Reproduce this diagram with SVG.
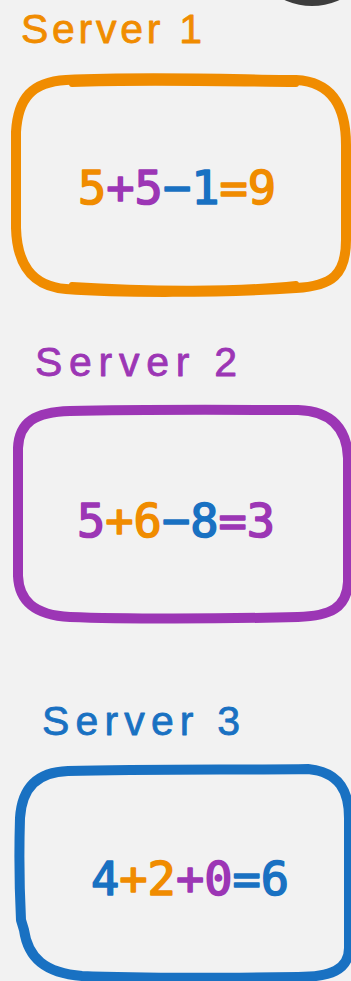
<svg xmlns="http://www.w3.org/2000/svg" width="351" height="981" viewBox="0 0 351 981">
  <style>
    .frame { fill: none; stroke-width: 10; stroke-linecap: round; stroke-linejoin: round; }
    .label { font-family: "Liberation Sans", Arial, sans-serif; font-size: 41px; stroke-width: 0.8; stroke-linejoin: round; }
    .sum { font-family: "DejaVu Sans Mono", "Liberation Mono", monospace; font-size: 47px; stroke-width: 1.6; stroke-linejoin: round; }
    .o { fill: #f08c00; stroke: #f08c00; }
    .p { fill: #9c36b5; stroke: #9c36b5; }
    .b { fill: #1971c2; stroke: #1971c2; }
  </style>
  <rect width="351" height="981" fill="#f2f2f2"/>

  <!-- partial dark disc at the top edge -->
  <circle cx="312" cy="-60" r="66" fill="#3d3d3d"/>

  <g id="server1">
    <text class="label o" x="21" y="43" textLength="181" lengthAdjust="spacing">Server 1</text>
    <path class="frame" stroke="#f08c00" d="M 66 80 C 150 76, 250 80, 296 80 C 333 82, 346 108, 346 145 L 346 240 C 346 275, 332 286, 296 288 C 220 293, 120 293, 66 289 C 30 286, 17 262, 16 228 L 16 132 C 18 98, 32 82, 66 80 Z"/>
    <path fill="none" stroke="#f08c00" stroke-width="6" stroke-linecap="round" d="M 72 84 C 150 81, 250 84, 296 84 M 72 285 C 150 290, 240 290, 296 284"/>
    <text class="sum" x="78" y="204"><tspan class="o">5</tspan><tspan class="p">+5</tspan><tspan class="b">−1</tspan><tspan class="o">=9</tspan></text>
  </g>

  <g id="server2">
    <text class="label p" x="35" y="376" textLength="202" lengthAdjust="spacing">Server 2</text>
    <path class="frame" stroke="#9c36b5" d="M 70 411 C 150 409, 250 410, 298 410 C 333 411, 347 430, 348 458 L 348 582 C 347 608, 330 616, 298 617 C 220 619, 120 619, 70 617 C 33 615, 19 600, 18 576 L 18 448 C 19 422, 35 412, 70 411 Z"/>
    <text class="sum" x="77" y="537"><tspan class="p">5</tspan><tspan class="o">+6</tspan><tspan class="b">−8</tspan><tspan class="p">=3</tspan></text>
  </g>

  <g id="server3">
    <text class="label b" x="42" y="735" textLength="198" lengthAdjust="spacing">Server 3</text>
    <path class="frame" stroke="#1971c2" d="M 68 771 C 150 769, 250 770, 308 769 C 340 772, 349 792, 349 818 L 349 948 C 349 970, 330 977, 298 977 C 220 978, 130 978, 82 976 C 45 973, 28 958, 24 930 L 21 920 C 19 880, 19 850, 20 818 C 22 787, 38 772, 68 771 Z"/>
    <text class="sum" x="91" y="895"><tspan class="b">4</tspan><tspan class="o">+2</tspan><tspan class="p">+0</tspan><tspan class="b">=6</tspan></text>
  </g>
</svg>
